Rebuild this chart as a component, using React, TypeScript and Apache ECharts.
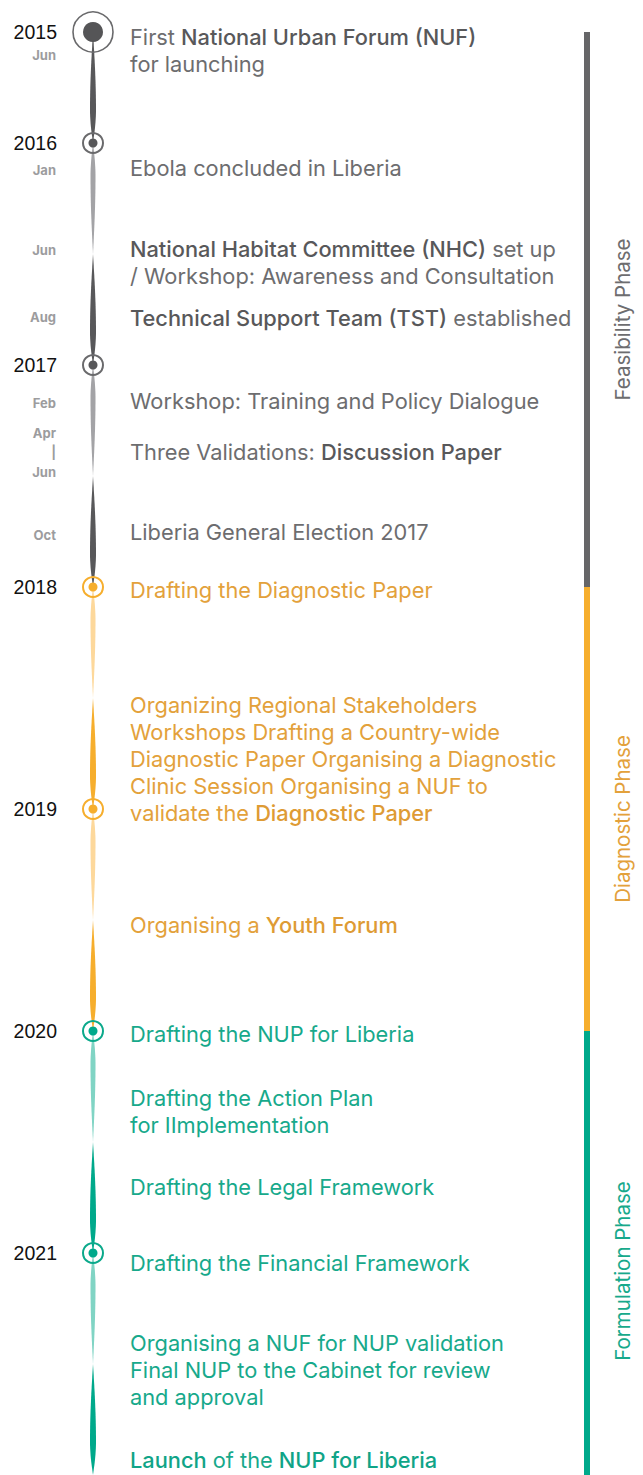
import React, { useEffect, useRef } from "react";
import * as echarts from "echarts";

const W = 643;
const H = 1475;

// Phases
const phaseNames = ["Feasibility Phase", "Diagnostic Phase", "Formulation Phase"];
const phaseStart = [2015.5, 2018, 2020];
const phaseEnd = [2018, 2020, 2022];

// Timeline year markers
const yearLabels = ["2015", "2016", "2017", "2018", "2019", "2020", "2021"];
const yearPos = [2015.5, 2016, 2017, 2018, 2019, 2020, 2021];
const yearPhase = [0, 0, 0, 1, 1, 2, 2];

// Month labels
const monthLabels = ["Jun", "Jan", "Jun", "Aug", "Feb", "Apr\n|\nJun", "Oct"];
const monthPos = [2015.604, 2016.122, 2016.482, 2016.784, 2017.171, 2017.392, 2017.766];

// Spindle segments of the timeline
const segStart = [2015.5, 2016, 2016.5, 2017, 2017.5, 2018, 2018.5, 2019, 2019.5, 2020, 2020.5, 2021, 2021.5];
const segEnd = [2016, 2016.5, 2017, 2017.5, 2018, 2018.5, 2019, 2019.5, 2020, 2020.5, 2021, 2021.5, 2022];
const segPhase = [0, 0, 0, 0, 0, 1, 1, 1, 1, 2, 2, 2, 2];
const segDark = [1, 0, 1, 0, 1, 0, 1, 0, 1, 0, 1, 0, 1];

// Events
const eventTexts = [
  "First {b|National Urban Forum (NUF)}\nfor launching",
  "Ebola concluded in Liberia",
  "{b|National Habitat Committee (NHC)} set up\n/ Workshop: Awareness and Consultation",
  "{b|Technical Support Team (TST)} established",
  "Workshop: Training and Policy Dialogue",
  "Three Validations: {b|Discussion Paper}",
  "Liberia General Election 2017",
  "Drafting the Diagnostic Paper",
  "Organizing Regional Stakeholders\nWorkshops Drafting a Country-wide\nDiagnostic Paper Organising a Diagnostic\nClinic Session Organising a NUF to\nvalidate the {b|Diagnostic Paper}",
  "Organising a {b|Youth Forum}",
  "Drafting the NUP for Liberia",
  "Drafting the Action Plan\nfor IImplementation",
  "Drafting the Legal Framework",
  "Drafting the Financial Framework",
  "Organising a NUF for NUP validation\nFinal NUP to the Cabinet for review\nand approval",
  "{b|Launch} of the {b|NUP for Liberia}",
];
const eventPos = [
  2015.523, 2016.113, 2016.477, 2016.788, 2017.162, 2017.392, 2017.752,
  2018.014, 2018.532, 2019.523, 2020.014, 2020.302, 2020.703, 2021.045,
  2021.405, 2021.934,
];
const eventPhase = [0, 0, 0, 0, 0, 0, 0, 1, 1, 1, 2, 2, 2, 2, 2, 2];

// Styles
const LIGHT = ["#A3A3A6", "#FDD89B", "#80D4C4"];
const DARK = ["#58585A", "#F6AE2D", "#00A98B"];
const RING = ["#6A6A6C", "#F6AE2D", "#0BA98B"];
const TEXT = ["#6D6D6F", "#E3A13B", "#17A98B"];
const BOLD = ["#58585A", "#DE9B34", "#10A487"];
const BAR = ["#666668", "#F6AE2D", "#00A98B"];
const LABEL = ["#6D6D6F", "#E3A13B", "#17A98B"];

const TL_X = 93;
const TEXT_X = 130;
const YEAR_X = 57;
const MONTH_X = 56;
const BAR_X = 587;
const PLABEL_X = 622;
const FONT = "Inter, 'Open Sans', sans-serif";
const LINE_H = 27;
const FS = 21.8;

export default function App() {
  const ref = useRef<HTMLDivElement>(null);
  useEffect(() => {
    const chart = echarts.init(ref.current!, null, { renderer: "svg" });

    const spindle = (params: any, api: any) => {
      const i = params.dataIndex;
      const p0 = api.coord([TL_X, api.value(0)]);
      const p1 = api.coord([TL_X, api.value(1)]);
      const dark = segDark[i] === 1;
      const peak = dark ? 0.7 : 0.3;
      const hw = dark ? 3 : 2.5;
      const N = 30;
      const left: number[][] = [];
      const right: number[][] = [];
      for (let k = 0; k <= N; k++) {
        const t = k / N;
        const s = t < peak ? (t / peak) * 0.5 : 0.5 + ((t - peak) / (1 - peak)) * 0.5;
        const w = hw * Math.sin(Math.PI * s);
        const y = p0[1] + (p1[1] - p0[1]) * t;
        left.push([p0[0] - w, y]);
        right.unshift([p0[0] + w, y]);
      }
      const ph = segPhase[i];
      return {
        type: "polygon",
        shape: { points: left.concat(right) },
        style: { fill: dark ? DARK[ph] : LIGHT[ph] },
      };
    };

    const circles = (params: any, api: any) => {
      const i = params.dataIndex;
      const c = api.coord([TL_X, api.value(0)]);
      const ph = yearPhase[i];
      const big = i === 0;
      return {
        type: "group",
        children: [
          {
            type: "circle",
            shape: { cx: c[0], cy: c[1], r: big ? 20 : 10 },
            style: { fill: "none", stroke: RING[ph], lineWidth: big ? 1.6 : 2 },
          },
          {
            type: "circle",
            shape: { cx: c[0], cy: c[1], r: big ? 10 : 4.5 },
            style: { fill: big ? "#555557" : DARK[ph] },
          },
        ],
      };
    };

    const years = (params: any, api: any) => {
      const i = params.dataIndex;
      const c = api.coord([YEAR_X, api.value(0)]);
      return {
        type: "text",
        x: c[0],
        y: c[1],
        style: {
          text: yearLabels[i],
          fill: "#111111",
          fontSize: 19.5,
          fontFamily: "'Liberation Sans', Arial, sans-serif",
          align: "right",
          verticalAlign: "middle",
        },
      };
    };

    const months = (params: any, api: any) => {
      const i = params.dataIndex;
      const c = api.coord([MONTH_X, api.value(0)]);
      return {
        type: "text",
        x: c[0],
        y: c[1],
        style: {
          text: monthLabels[i],
          fill: "#9C9C9E",
          fontSize: 13,
          fontWeight: "bold",
          fontFamily: FONT,
          align: "right",
          verticalAlign: "middle",
          lineHeight: 19.5,
        },
      };
    };

    const events = (params: any, api: any) => {
      const i = params.dataIndex;
      const c = api.coord([TEXT_X, api.value(0)]);
      const ph = eventPhase[i];
      const lh = eventTexts[i].indexOf("\n") >= 0 ? LINE_H : 24;
      return {
        type: "text",
        x: c[0],
        y: c[1] - lh / 2,
        style: {
          text: eventTexts[i],
          fill: TEXT[ph],
          fontSize: FS,
          fontFamily: FONT,
          align: "left",
          verticalAlign: "top",
          lineHeight: lh,
          rich: {
            b: {
              fill: BOLD[ph],
              fontSize: FS,
              fontFamily: FONT,
              fontWeight: 500,
              lineHeight: lh,
            },
          },
        },
      };
    };

    const bars = (params: any, api: any) => {
      const i = params.dataIndex;
      const a = api.coord([BAR_X, api.value(0)]);
      const b = api.coord([BAR_X, api.value(1)]);
      const l = api.coord([PLABEL_X, (api.value(0) + api.value(1)) / 2]);
      return {
        type: "group",
        children: [
          {
            type: "rect",
            shape: { x: a[0] - 3, y: a[1], width: 6, height: b[1] - a[1] },
            style: { fill: BAR[i] },
          },
          {
            type: "text",
            x: l[0],
            y: l[1] + (i === 2 ? 18 : 10),
            rotation: Math.PI / 2,
            style: {
              text: phaseNames[i],
              fill: LABEL[i],
              fontSize: 20.5,
              fontFamily: FONT,
              align: "center",
              verticalAlign: "middle",
            },
          },
        ],
      };
    };

    chart.setOption({
      animation: false,
      backgroundColor: "#ffffff",
      grid: { left: 0, right: 0, top: 32, bottom: 0 },
      xAxis: { type: "value", min: 0, max: W, show: false },
      yAxis: { type: "value", min: 2015.5, max: 2022, inverse: true, show: false },
      series: [
        {
          type: "custom",
          name: "phases",
          renderItem: bars,
          data: phaseStart.map((s, i) => [s, phaseEnd[i]]),
          clip: false,
        },
        {
          type: "custom",
          name: "spindles",
          renderItem: spindle,
          data: segStart.map((s, i) => [s, segEnd[i]]),
          clip: false,
        },
        {
          type: "custom",
          name: "circles",
          renderItem: circles,
          data: yearPos.map((v) => [v]),
          clip: false,
        },
        {
          type: "custom",
          name: "years",
          renderItem: years,
          data: yearPos.map((v) => [v]),
          clip: false,
        },
        {
          type: "custom",
          name: "months",
          renderItem: months,
          data: monthPos.map((v) => [v]),
          clip: false,
        },
        {
          type: "custom",
          name: "events",
          renderItem: events,
          data: eventPos.map((v) => [v]),
          clip: false,
        },
      ],
    });
    return () => chart.dispose();
  }, []);
  return (
    <div
      ref={ref}
      style={{ position: "absolute", left: 0, top: 0, width: W, height: H }}
    />
  );
}
